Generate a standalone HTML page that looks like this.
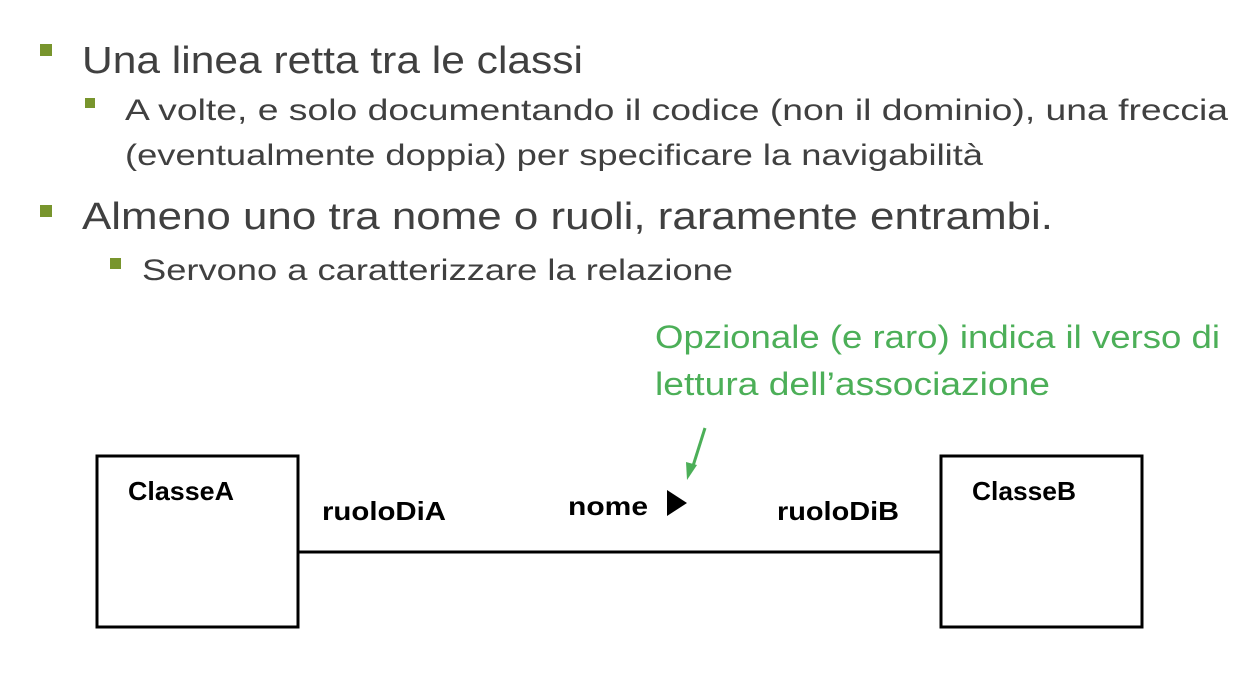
<!DOCTYPE html>
<html><head><meta charset="utf-8"><style>
html,body{margin:0;padding:0;background:#fff;}
svg{display:block;}
text{font-family:"Liberation Sans",sans-serif;}
</style></head><body>
<svg width="1247" height="687" viewBox="0 0 1247 687" xmlns="http://www.w3.org/2000/svg">
<g fill="#78952d">
<rect x="40" y="44" width="12" height="12"/>
<rect x="85" y="98" width="10" height="10"/>
<rect x="40" y="205" width="12" height="12"/>
<rect x="110" y="258" width="11" height="11"/>
</g>
<g fill="#404040">
<text x="82" y="73" font-size="38" textLength="501" lengthAdjust="spacingAndGlyphs">Una linea retta tra le classi</text>
<text x="125" y="120" font-size="30" textLength="1103" lengthAdjust="spacingAndGlyphs">A volte, e solo documentando il codice (non il  dominio), una freccia</text>
<text x="125" y="165" font-size="30" textLength="858" lengthAdjust="spacingAndGlyphs">(eventualmente doppia)  per specificare la navigabilità</text>
<text x="82" y="229" font-size="38" textLength="971" lengthAdjust="spacingAndGlyphs">Almeno uno tra nome o ruoli, raramente entrambi.</text>
<text x="142" y="280" font-size="30" textLength="591" lengthAdjust="spacingAndGlyphs">Servono a caratterizzare la relazione</text>
</g>
<g fill="#4caf58">
<text x="655" y="348" font-size="32" textLength="565" lengthAdjust="spacingAndGlyphs">Opzionale (e raro) indica il verso di</text>
<text x="655" y="395" font-size="32" textLength="395" lengthAdjust="spacingAndGlyphs">lettura dell’associazione</text>
</g>
<line x1="705" y1="428" x2="693" y2="466" stroke="#4caf58" stroke-width="3"/>
<polygon points="687,480 686,462 697,465" fill="#4caf58"/>
<rect x="97" y="456" width="201" height="171" fill="none" stroke="#000" stroke-width="3"/>
<rect x="941" y="456" width="201" height="171" fill="none" stroke="#000" stroke-width="3"/>
<line x1="298" y1="552" x2="941" y2="552" stroke="#000" stroke-width="3"/>
<g font-weight="bold" fill="#000" font-size="26">
<text x="128" y="500" textLength="106" lengthAdjust="spacingAndGlyphs">ClasseA</text>
<text x="322" y="520" textLength="124" lengthAdjust="spacingAndGlyphs">ruoloDiA</text>
<text x="568" y="515" textLength="80" lengthAdjust="spacingAndGlyphs">nome</text>
<text x="777" y="520" textLength="122" lengthAdjust="spacingAndGlyphs">ruoloDiB</text>
<text x="972" y="500" textLength="104" lengthAdjust="spacingAndGlyphs">ClasseB</text>
</g>
<polygon points="667,490 687,503 667,516" fill="#000"/>
</svg>
</body></html>
